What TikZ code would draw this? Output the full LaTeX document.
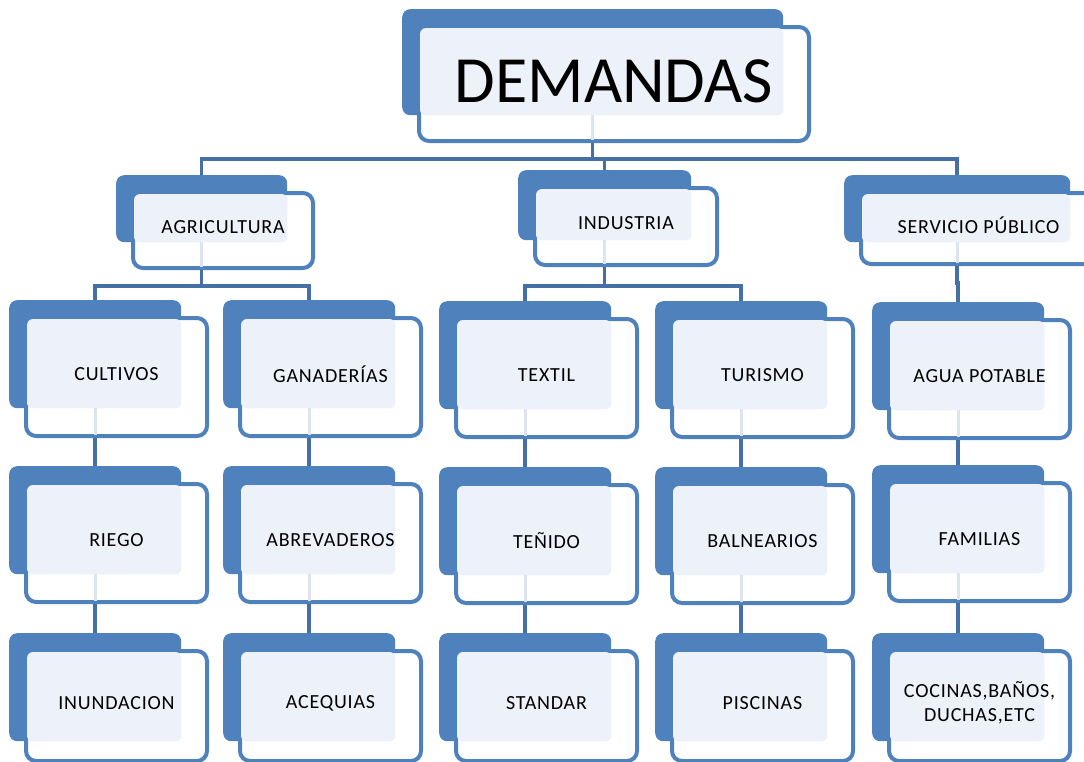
\documentclass[tikz,border=0pt]{standalone}
\usepackage{fontspec}
\setmainfont{Carlito}
\newfontfamily\titlefont{Carlito}
\newfontfamily\labelfont{Carlito}[LetterSpace=4]
\usetikzlibrary{calc}

\definecolor{demblue}{HTML}{4F81BD}
\definecolor{demline}{HTML}{4470A6}
\definecolor{demlight}{HTML}{EDF1F9}
\definecolor{dempale}{HTML}{DDE4EF}

% name, x, y, back width, back height, front height, text
\newcommand{\dembox}[7]{%
  \node[backbox, minimum width=#4, minimum height=#5] (#1) at (#2,#3) {};
  \node[frontbox, minimum width=#4+9, minimum height=#6] (#1-f) at (#2+15,#3+16) {};
  \fill[lightfill] ($(#1-f.north west)+(3,3)$) rectangle (#1.south east);
  \node[boxtext] at ($(#1-f.center)+(0,-3)$) {#7};
}

\begin{document}
\begin{tikzpicture}[x=1pt, y=-1pt,
  backbox/.style={anchor=north west, rectangle, rounded corners=8pt, fill=demblue, inner sep=0pt},
  frontbox/.style={anchor=north west, rectangle, rounded corners=10pt, draw=demblue, line width=4pt, fill=white, inner sep=0pt},
  lightfill/.style={fill=demlight, rounded corners=6pt},
  paleline/.style={dempale, line width=3pt},
  conn/.style={demline, line width=3.5pt},
  boxtext/.style={font=\labelfont\fontsize{20}{24}\selectfont, align=center, inner sep=0pt}]

\useasboundingbox[fill=white] (0,0) rectangle (1084,761);

\dembox{dem}{402}{9}{381}{106}{114}{\titlefont\fontsize{66}{70}\selectfont DEMANDAS}

\dembox{agr}{116}{175}{171}{67}{75}{AGRICULTURA}
\dembox{ind}{518}{170}{173}{70}{77}{INDUSTRIA}
\dembox{ser}{844}{175}{226}{67}{71}{SERVICIO PÚBLICO}

\dembox{cul}{9}{300}{172}{108}{118}{CULTIVOS}
\dembox{gan}{223}{300}{172}{108}{118}{GANADERÍAS}
\dembox{tex}{439}{301}{172}{108}{118}{TEXTIL}
\dembox{tur}{655}{301}{172}{108}{118}{TURISMO}
\dembox{agu}{872}{302}{172}{108}{118}{AGUA POTABLE}

\dembox{rie}{9}{466}{172}{108}{118}{RIEGO}
\dembox{abr}{223}{466}{172}{108}{118}{ABREVADEROS}
\dembox{ten}{439}{467}{172}{108}{118}{TEÑIDO}
\dembox{bal}{655}{467}{172}{108}{118}{BALNEARIOS}
\dembox{fam}{872}{465}{172}{108}{118}{FAMILIAS}

\dembox{inu}{9}{633}{172}{108}{110}{INUNDACION}
\dembox{ace}{223}{633}{172}{108}{110}{ACEQUIAS}
\dembox{sta}{439}{633}{172}{108}{110}{STANDAR}
\dembox{pis}{655}{633}{172}{108}{110}{PISCINAS}
\dembox{coc}{872}{633}{172}{108}{110}{COCINAS,BAÑOS,\\DUCHAS,ETC}

% faint stubs inside the parent boxes
\foreach \a in {dem, agr, ind, ser, cul, gan, tex, tur, agu, rie, abr, ten, bal, fam}
  \draw[paleline] (\a.south) -- ($(\a.south |- \a-f.south)+(0,-3)$);

% connectors
\draw[conn] (dem.south |- dem-f.south) -- ++(0,16) -| (agr.north);
\draw[conn] (dem.south |- dem-f.south) -- ++(0,16) -| (ind.north);
\draw[conn] (dem.south |- dem-f.south) -- ++(0,16) -| (ser.north);

\draw[conn] (agr.south |- agr-f.south) -- ++(0,16) -| (cul.north);
\draw[conn] (agr.south |- agr-f.south) -- ++(0,16) -| (gan.north);
\draw[conn] (ind.south |- ind-f.south) -- ++(0,19) -| (tex.north);
\draw[conn] (ind.south |- ind-f.south) -- ++(0,19) -| (tur.north);
\draw[conn] (ser.south |- ser-f.south) -- ++(0,17) -| (agu.north);

\foreach \a/\b in {cul/rie, rie/inu, gan/abr, abr/ace, tex/ten, ten/sta, tur/bal, bal/pis, agu/fam, fam/coc}
  \draw[conn] (\a.south |- \a-f.south) -- (\b.north);

\end{tikzpicture}
\end{document}
